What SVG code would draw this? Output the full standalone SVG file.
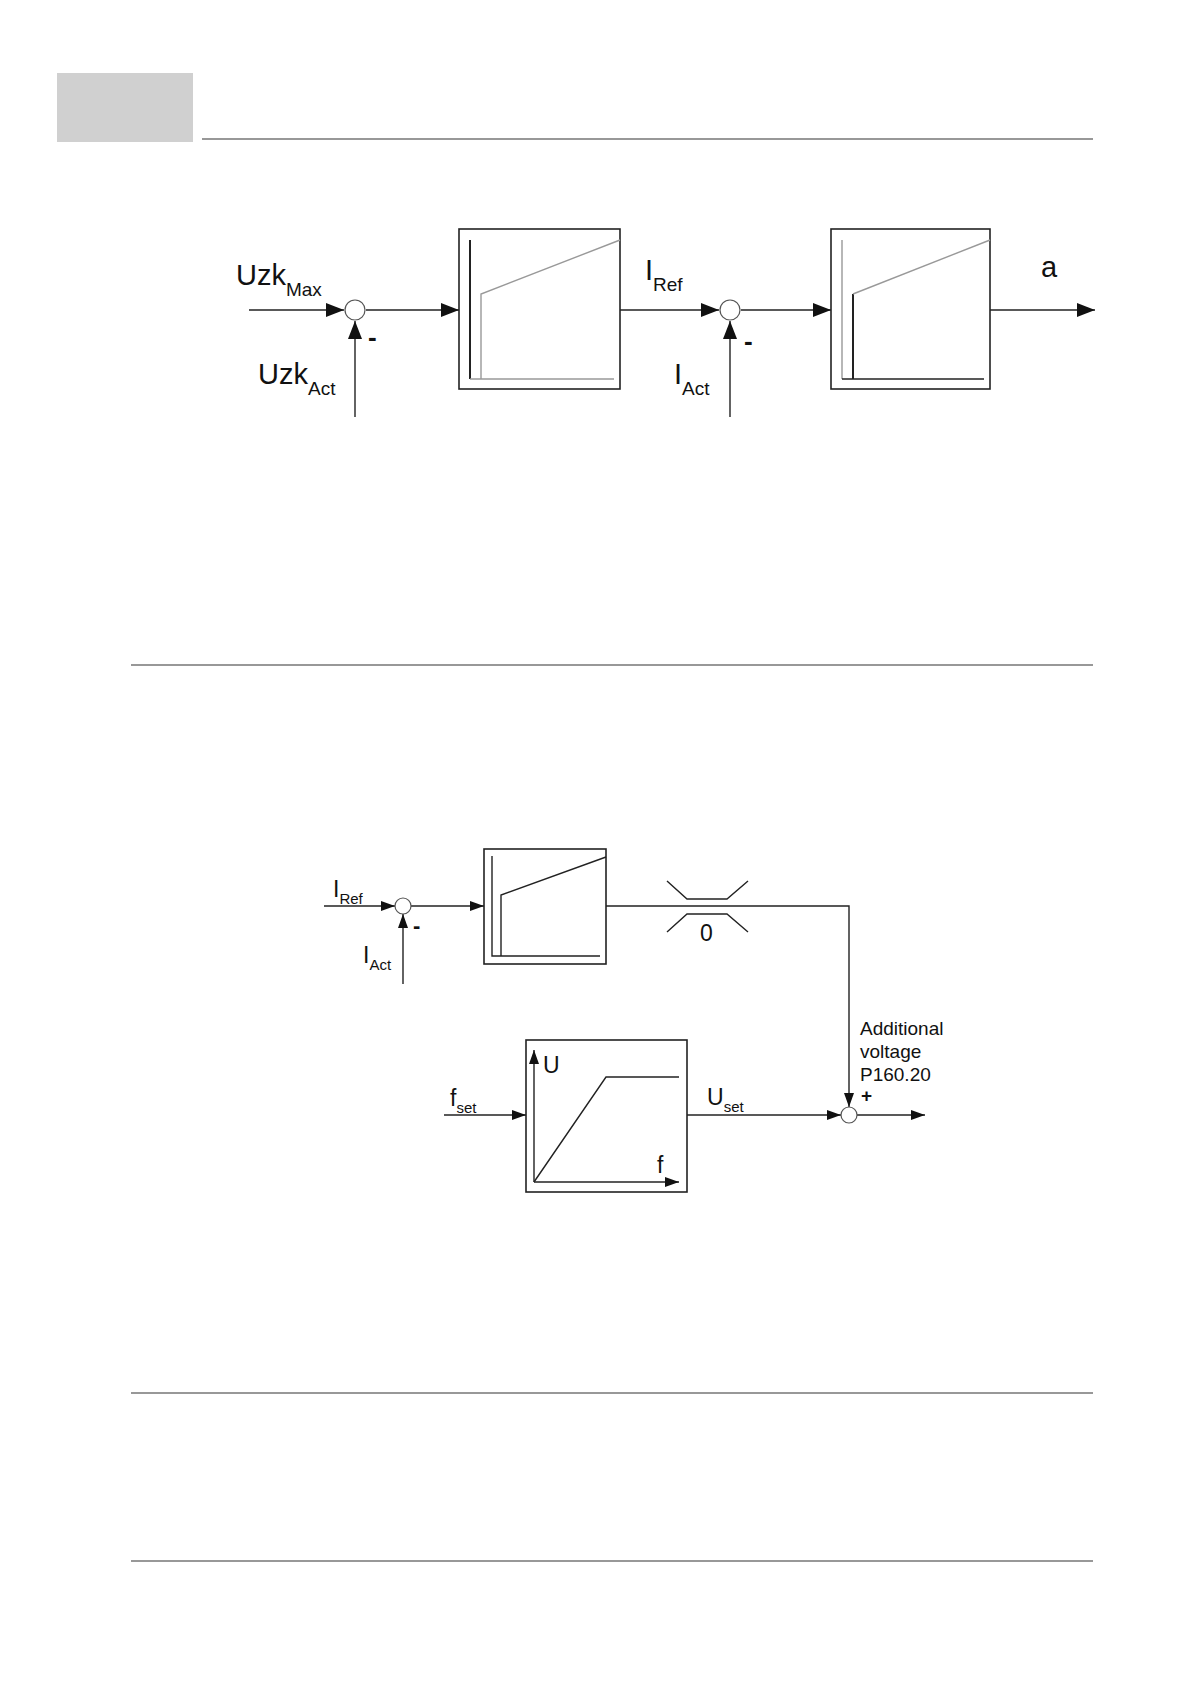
<svg xmlns="http://www.w3.org/2000/svg" width="1190" height="1684" viewBox="0 0 1190 1684">
<style>
.l{stroke:#222;stroke-width:1.4;fill:none}
.g{stroke:#999;stroke-width:1.4;fill:none}
.d{stroke:#222;stroke-width:2;fill:none}
.b{stroke:#222;stroke-width:1.6;fill:#fff}
.c{stroke:#555;stroke-width:1.2;fill:#fff}
text{font-family:"Liberation Sans",Arial,sans-serif;fill:#111}
.t1{font-size:29px}.s1{font-size:19px}
.t2{font-size:23px}.s2{font-size:15px}
.t3{font-size:19px}
.m{font-size:26px;font-weight:bold}
</style>
<defs>
<marker id="a" markerWidth="18" markerHeight="14" refX="18" refY="7" orient="auto" markerUnits="userSpaceOnUse"><path d="M0,0L18,7L0,14z" fill="#111"/></marker>
<marker id="as" markerWidth="14" markerHeight="10" refX="14" refY="5" orient="auto" markerUnits="userSpaceOnUse"><path d="M0,0L14,5L0,10z" fill="#111"/></marker>
</defs>
<rect x="57" y="73" width="136" height="69" fill="#d0d0d0"/>
<line x1="202" y1="139" x2="1093" y2="139" stroke="#333" stroke-width="1.2"/>
<line x1="131" y1="665" x2="1093" y2="665" stroke="#333" stroke-width="1.2"/>
<line x1="131" y1="1393" x2="1093" y2="1393" stroke="#333" stroke-width="1.2"/>
<line x1="131" y1="1561" x2="1093" y2="1561" stroke="#333" stroke-width="1.2"/>
<g id="connectors">
<line class="l" x1="249" y1="310" x2="344" y2="310" marker-end="url(#a)"/>
<line class="l" x1="355" y1="417" x2="355" y2="321" marker-end="url(#a)"/>
<line class="l" x1="366" y1="310" x2="459" y2="310" marker-end="url(#a)"/>
<line class="l" x1="620" y1="310" x2="719" y2="310" marker-end="url(#a)"/>
<line class="l" x1="730" y1="417" x2="730" y2="321" marker-end="url(#a)"/>
<line class="l" x1="741" y1="310" x2="831" y2="310" marker-end="url(#a)"/>
<line class="l" x1="990" y1="310" x2="1095" y2="310" marker-end="url(#a)"/>
<line class="l" x1="324" y1="906" x2="395" y2="906" marker-end="url(#as)"/>
<line class="l" x1="403" y1="984" x2="403" y2="914" marker-end="url(#as)"/>
<line class="l" x1="411" y1="906" x2="484" y2="906" marker-end="url(#as)"/>
<polyline class="l" points="606,906 849,906 849,1107" marker-end="url(#as)"/>
<line class="l" x1="444" y1="1115" x2="526" y2="1115" marker-end="url(#as)"/>
<line class="l" x1="687" y1="1115" x2="841" y2="1115" marker-end="url(#as)"/>
<line class="l" x1="857" y1="1115" x2="925" y2="1115" marker-end="url(#as)"/>
</g>
<g id="sum1"><circle class="c" cx="355" cy="310" r="10"/><text class="m" x="368" y="346">-</text></g>
<g id="uzkmax"><text class="t1" x="236" y="285">Uzk<tspan class="s1" dy="11">Max</tspan></text></g>
<g id="uzkact"><text class="t1" x="258" y="384">Uzk<tspan class="s1" dy="11">Act</tspan></text></g>
<g id="box1"><rect class="b" x="459" y="229" width="161" height="160"/>
<line class="d" x1="470" y1="240" x2="470" y2="379"/>
<polyline class="g" points="470,379 614,379"/>
<polyline class="g" points="481,379 481,294 620,240"/></g>
<g id="iref1"><text class="t1" x="645" y="280">I<tspan class="s1" dy="11">Ref</tspan></text></g>
<g id="sum2"><circle class="c" cx="730" cy="310" r="10"/><text class="m" x="744" y="350">-</text></g>
<g id="iact1"><text class="t1" x="674" y="384">I<tspan class="s1" dy="11">Act</tspan></text></g>
<g id="box2"><rect class="b" x="831" y="229" width="159" height="160"/>
<polyline class="g" points="842,240 842,379"/>
<polyline class="l" points="842,379 984,379"/>
<polyline class="d" points="853,379 853,294"/>
<line class="g" x1="853" y1="294" x2="990" y2="240"/></g>
<g id="out_a"><text class="t1" x="1041" y="277">a</text></g>
<g id="iref2"><text class="t2" x="333" y="897">I<tspan class="s2" dy="7">Ref</tspan></text></g>
<g id="sum3"><circle class="c" cx="403" cy="906" r="8"/><text class="m" x="413" y="933" style="font-size:22px">-</text></g>
<g id="iact2"><text class="t2" x="363" y="963">I<tspan class="s2" dy="7">Act</tspan></text></g>
<g id="box3"><rect class="b" x="484" y="849" width="122" height="115"/>
<polyline class="l" points="492,856 492,956 600,956"/>
<polyline class="l" points="501,956 501,895 606,857"/></g>
<g id="limiter"><polyline class="l" points="667,881 687,899 727,899 748,881"/>
<polyline class="l" points="667,932 687,914 727,914 748,932"/>
<text class="t2" x="700" y="941">0</text></g>
<g id="fset"><text class="t2" x="450" y="1106">f<tspan class="s2" dy="7">set</tspan></text></g>
<g id="box4"><rect class="b" x="526" y="1040" width="161" height="152"/>
<line class="l" x1="534" y1="1182" x2="534" y2="1050" marker-end="url(#as)"/>
<line class="l" x1="534" y1="1182" x2="679" y2="1182" marker-end="url(#as)"/>
<polyline class="l" points="534,1182 606,1077 679,1077"/>
<text class="t2" x="543" y="1073">U</text><text class="t2" x="657" y="1173">f</text></g>
<g id="uset"><text class="t2" x="707" y="1105">U<tspan class="s2" dy="7">set</tspan></text></g>
<g id="sum4"><circle class="c" cx="849" cy="1115" r="8"/><text class="t3" x="861" y="1102" style="font-weight:bold">+</text></g>
<g id="addv"><text class="t3" x="860" y="1035">Additional</text><text class="t3" x="860" y="1058">voltage</text><text class="t3" x="860" y="1081">P160.20</text></g>
</svg>
